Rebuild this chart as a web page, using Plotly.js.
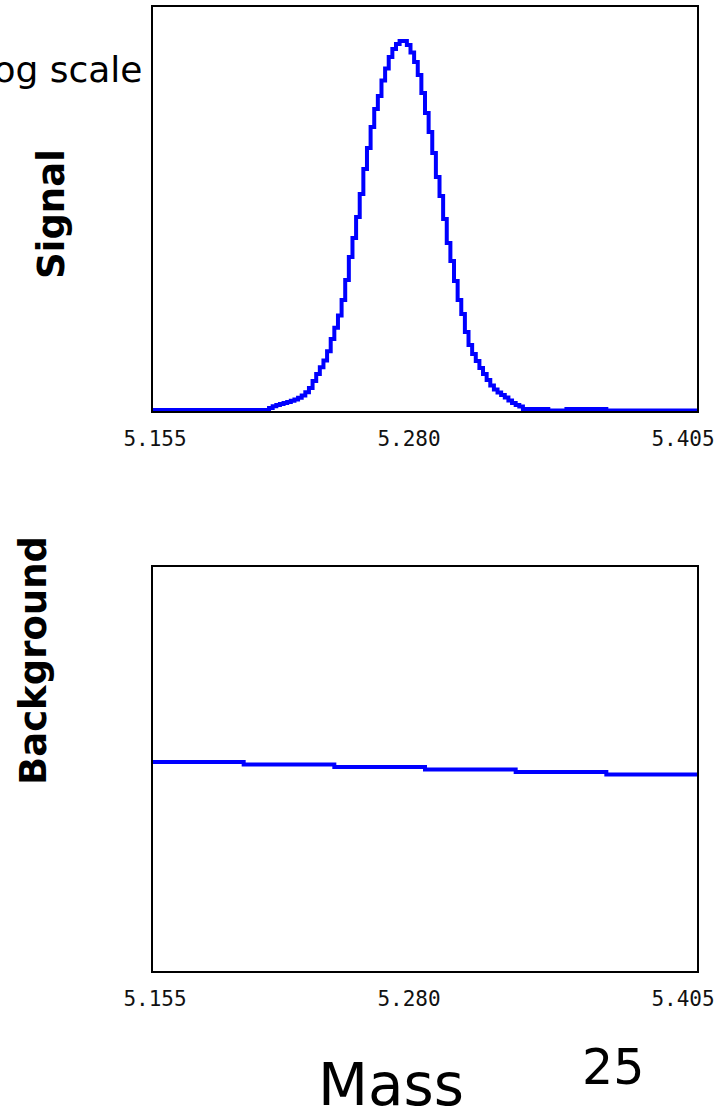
<!DOCTYPE html>
<html>
<head>
<meta charset="utf-8">
<script src="https://cdn.plot.ly/plotly-3.0.1.min.js"></script>
<style>
html,body{margin:0;padding:0;background:#fff;}
#chart{width:728px;height:1109px;}
</style>
</head>
<body>
<div id="chart"></div>
<script>
// ---- data ----
const massLo = 5.155;
const massHi = 5.405;

// Signal histogram, 150 bins between massLo and massHi (arbitrary units)
const signalCounts = [
  1, 1, 1, 1, 1, 1, 1, 1, 1, 1,
  1, 1, 1, 1, 1, 1, 1, 1, 1, 1,
  1, 1, 1, 1, 1, 1, 1, 1, 1, 1,
  1, 1, 3, 4.8, 6, 6.9, 8.1, 9.1, 10.2, 11.6,
  13.2, 15.5, 18.7, 23, 30, 37, 43.7, 50.4, 59.7, 72,
  83.3, 95.5, 111, 131, 154, 173, 194, 217, 242, 263,
  284, 302, 315, 330.5, 342.5, 354, 362, 367, 370, 370,
  366, 358.5, 349, 336, 318, 298, 279, 258, 234, 215,
  192, 168, 150, 130, 111, 97, 79, 66, 57, 50,
  43, 37, 31, 25.5, 21.5, 18.5, 16, 13.4, 10.4, 8,
  6, 4.5, 2, 2, 2, 2, 2, 2, 2, 0.5,
  0.5, 0.5, 0.5, 0.5, 2, 2, 2, 2, 2, 2,
  2, 2, 2, 2, 2, 0.5, 0.5, 0.5, 0.5, 0.5,
  0.5, 0.5, 0.5, 0.5, 0.5, 0.5, 0.5, 0.5, 0.5, 0.5,
  0.5, 0.5, 0.5, 0.5, 0.5, 0.5, 0.5, 0.5, 0.5, 0.5
];

// Background histogram, 6 bins between massLo and massHi
const backgroundCounts = [209, 206.5, 204, 201.5, 199, 196.5];

// tick labels
const tickVals = [5.15592, 5.27265, 5.39857];
const tickText = ['5.155', '5.280', '5.405'];
const midTick = [5.27265];

// ---- build step outlines from bins ----
function stepTrace(counts, xa, ya) {
  const n = counts.length;
  const w = (massHi - massLo) / n;
  const xs = [], ys = [];
  for (let i = 0; i <= n; i++) {
    xs.push(massLo + i * w);
    ys.push(counts[Math.min(i, n - 1)]);
  }
  return {
    type: 'scatter', mode: 'lines', x: xs, y: ys,
    xaxis: xa, yaxis: ya,
    line: {shape: 'hv', color: '#0000ff', width: 4},
    hoverinfo: 'skip', showlegend: false
  };
}

const traces = [
  stepTrace(signalCounts, 'x', 'y'),
  stepTrace(backgroundCounts, 'x2', 'y2')
];

const frameX = {
  range: [massLo, massHi], showline: true, mirror: true,
  linecolor: '#000', linewidth: 2, showgrid: false, zeroline: false,
  tickmode: 'array', tickvals: tickVals, ticktext: tickText, ticks: '',
  ticklabelstandoff: 8,
  tickfont: {family: 'DejaVu Sans Mono', size: 21, color: '#111'},
  fixedrange: true
};
const frameY = {
  range: [0, 404], showline: true, mirror: true,
  linecolor: '#000', linewidth: 2, showgrid: false, zeroline: false,
  showticklabels: false, ticks: '', fixedrange: true
};
const tickAxis = {
  range: [massLo, massHi], showline: false, showgrid: false, zeroline: false,
  tickmode: 'array', tickvals: midTick, ticks: 'inside', ticklen: 7,
  tickwidth: 2, tickcolor: '#000', showticklabels: false, side: 'bottom',
  fixedrange: true
};

const F = 'DejaVu Sans';
const layout = {
  width: 728, height: 1109,
  margin: {l: 153, r: 31, t: 7, b: 138, pad: 0},
  paper_bgcolor: '#fff', plot_bgcolor: '#fff',
  showlegend: false,
  xaxis: Object.assign({}, frameX, {domain: [0, 1], anchor: 'y'}),
  yaxis: Object.assign({}, frameY, {domain: [0.5809, 1], anchor: 'x'}),
  xaxis2: Object.assign({}, frameX, {domain: [0, 1], anchor: 'y2'}),
  yaxis2: Object.assign({}, frameY, {domain: [0, 0.4191], anchor: 'x2'}),
  xaxis3: Object.assign({}, tickAxis, {overlaying: 'x', anchor: 'y'}),
  xaxis4: Object.assign({}, tickAxis, {overlaying: 'x2', anchor: 'y2'}),
  annotations: [
    {text: 'Log scale', xref: 'paper', yref: 'paper', x: -0.0147, y: 0.9347,
     xanchor: 'right', yanchor: 'middle', showarrow: false,
     font: {family: F, size: 36, color: '#000'}},
    {text: '<b>Signal</b>', xref: 'paper', yref: 'paper', x: -0.1857, y: 0.7853,
     xanchor: 'center', yanchor: 'middle', textangle: -90, showarrow: false,
     font: {family: F, size: 37, color: '#000'}},
    {text: '<b>Background</b>', xref: 'paper', yref: 'paper', x: -0.2206, y: 0.3226,
     xanchor: 'center', yanchor: 'middle', textangle: -90, showarrow: false,
     font: {family: F, size: 37, color: '#000'}},
    {text: 'Mass', xref: 'paper', yref: 'paper', x: 0.4375, y: -0.1185,
     xanchor: 'center', yanchor: 'middle', showarrow: false,
     font: {family: F, size: 58, color: '#000'}},
    {text: '25', xref: 'paper', yref: 'paper', x: 0.8465, y: -0.1006,
     xanchor: 'center', yanchor: 'middle', showarrow: false,
     font: {family: F, size: 49, color: '#000'}}
  ]
};

Plotly.newPlot('chart', traces, layout, {staticPlot: true, displayModeBar: false});
</script>
</body>
</html>
